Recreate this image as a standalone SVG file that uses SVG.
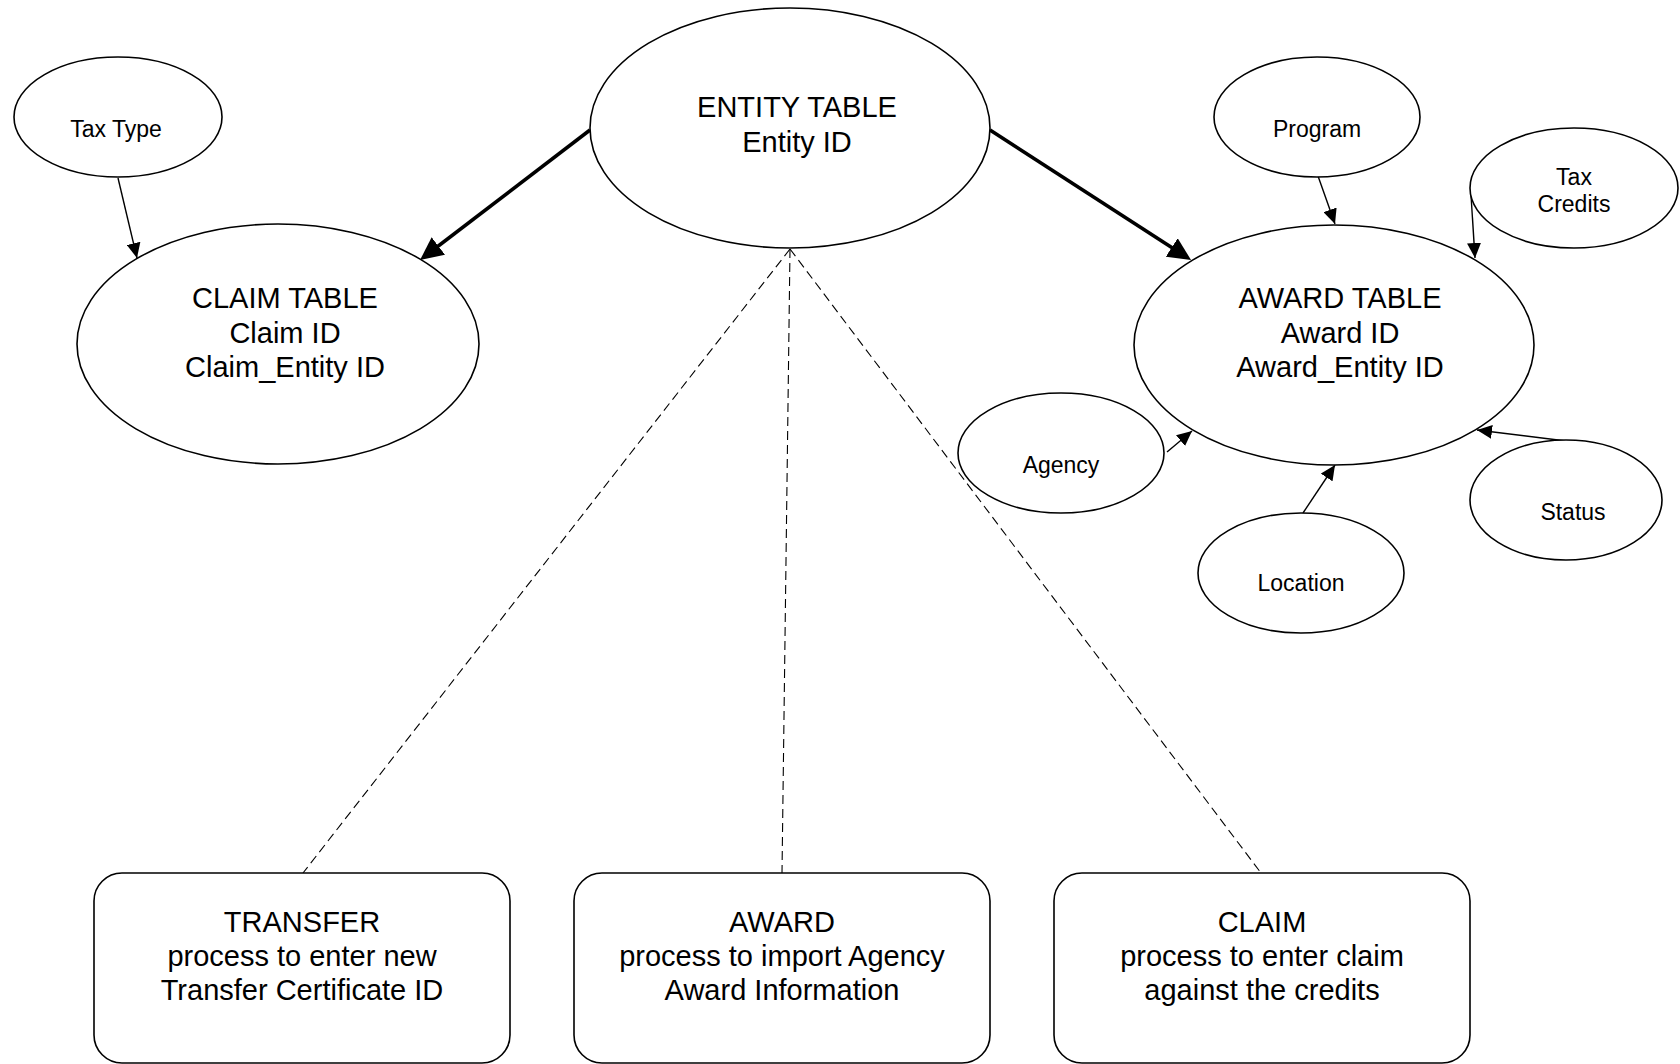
<svg xmlns="http://www.w3.org/2000/svg" width="1680" height="1064" viewBox="0 0 1680 1064">
<style>
  .shape { fill: #ffffff; stroke: #000000; stroke-width: 1.6; }
  .big { font-family: "Liberation Sans", Arial, sans-serif; font-size: 29px; fill: #000; text-anchor: middle; }
  .small { font-family: "Liberation Sans", Arial, sans-serif; font-size: 23px; fill: #000; text-anchor: middle; }
  .thin { stroke: #000; stroke-width: 1.4; fill: none; }
  .thick { stroke: #000; stroke-width: 3.6; fill: none; }
  .dash { stroke: #000; stroke-width: 1.1; fill: none; stroke-dasharray: 9 5; }
</style>
<defs>
  <marker id="ah" markerUnits="userSpaceOnUse" markerWidth="16" markerHeight="14" refX="15" refY="7" orient="auto">
    <path d="M0,0 L15,7 L0,14 z" fill="#000"/>
  </marker>
  <marker id="ahBig" markerUnits="userSpaceOnUse" markerWidth="24" markerHeight="22" refX="12" refY="11" orient="auto">
    <path d="M0,0 L23,11 L0,22 z" fill="#000"/>
  </marker>
</defs>
<rect width="1680" height="1064" fill="#ffffff"/>

<g id="connectors">
  <line class="dash" x1="790" y1="249" x2="303" y2="873"/>
  <line class="dash" x1="790" y1="249" x2="782" y2="873"/>
  <line class="dash" x1="790" y1="249" x2="1261" y2="873"/>
  <line class="thick" x1="590" y1="130" x2="428.8" y2="253.3" marker-end="url(#ahBig)"/>
  <line class="thick" x1="990" y1="130" x2="1181.8" y2="254" marker-end="url(#ahBig)"/>
  <line class="thin" x1="118" y1="178" x2="137" y2="258" marker-end="url(#ah)"/>
  <line class="thin" x1="1318" y1="176" x2="1335" y2="224" marker-end="url(#ah)"/>
  <line class="thin" x1="1471" y1="195" x2="1475" y2="258" marker-end="url(#ah)"/>
  <line class="thin" x1="1167" y1="452" x2="1192" y2="431" marker-end="url(#ah)"/>
  <line class="thin" x1="1303" y1="513" x2="1335" y2="465" marker-end="url(#ah)"/>
  <line class="thin" x1="1566" y1="441" x2="1477" y2="430" marker-end="url(#ah)"/>
</g>

<g id="entity-table">
  <ellipse class="shape" cx="790" cy="128" rx="200" ry="120"/>
  <text class="big" x="797" y="117">ENTITY TABLE</text>
  <text class="big" x="797" y="152">Entity ID</text>
</g>

<g id="claim-table">
  <ellipse class="shape" cx="278" cy="344" rx="201" ry="120"/>
  <text class="big" x="285" y="308">CLAIM TABLE</text>
  <text class="big" x="285" y="343">Claim ID</text>
  <text class="big" x="285" y="377">Claim_Entity ID</text>
</g>

<g id="award-table">
  <ellipse class="shape" cx="1334" cy="345" rx="200" ry="120"/>
  <text class="big" x="1340" y="308">AWARD TABLE</text>
  <text class="big" x="1340" y="343">Award ID</text>
  <text class="big" x="1340" y="377">Award_Entity ID</text>
</g>

<g id="tax-type">
  <ellipse class="shape" cx="118" cy="117" rx="104" ry="60"/>
  <text class="small" x="116" y="137">Tax Type</text>
</g>

<g id="program">
  <ellipse class="shape" cx="1317" cy="117" rx="103" ry="60"/>
  <text class="small" x="1317" y="137">Program</text>
</g>

<g id="tax-credits">
  <ellipse class="shape" cx="1574" cy="188" rx="104" ry="60"/>
  <text class="small" x="1574" y="185">Tax</text>
  <text class="small" x="1574" y="212">Credits</text>
</g>

<g id="agency">
  <ellipse class="shape" cx="1061" cy="453" rx="103" ry="60"/>
  <text class="small" x="1061" y="473">Agency</text>
</g>

<g id="location">
  <ellipse class="shape" cx="1301" cy="573" rx="103" ry="60"/>
  <text class="small" x="1301" y="591">Location</text>
</g>

<g id="status">
  <ellipse class="shape" cx="1566" cy="500" rx="96" ry="60"/>
  <text class="small" x="1573" y="520">Status</text>
</g>

<g id="transfer-process">
  <rect class="shape" x="94" y="873" width="416" height="190" rx="28" ry="28"/>
  <text class="big" x="302" y="932">TRANSFER</text>
  <text class="big" x="302" y="966">process to enter new</text>
  <text class="big" x="302" y="1000">Transfer Certificate ID</text>
</g>

<g id="award-process">
  <rect class="shape" x="574" y="873" width="416" height="190" rx="28" ry="28"/>
  <text class="big" x="782" y="932">AWARD</text>
  <text class="big" x="782" y="966">process to import Agency</text>
  <text class="big" x="782" y="1000">Award Information</text>
</g>

<g id="claim-process">
  <rect class="shape" x="1054" y="873" width="416" height="190" rx="28" ry="28"/>
  <text class="big" x="1262" y="932">CLAIM</text>
  <text class="big" x="1262" y="966">process to enter claim</text>
  <text class="big" x="1262" y="1000">against the credits</text>
</g>
</svg>
